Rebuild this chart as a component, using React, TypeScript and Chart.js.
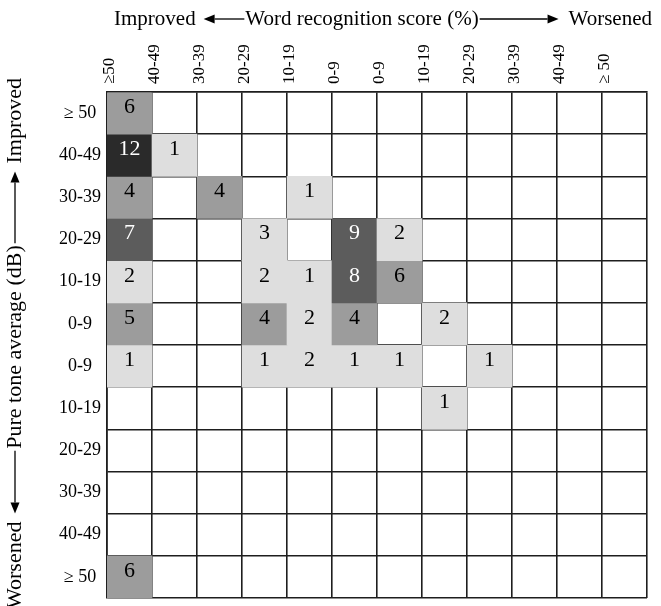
import React, { useEffect, useRef } from 'react';
import { Chart, registerables } from 'chart.js';

Chart.register(...registerables);

// Column categories: change in word recognition score (%)
const wordScoreLabels = ['≥50', '40-49', '30-39', '20-29', '10-19', '0-9', '0-9', '10-19', '20-29', '30-39', '40-49', '≥ 50'];
// Row categories: change in pure tone average (dB)
const ptaLabels = ['≥ 50', '40-49', '30-39', '20-29', '10-19', '0-9', '0-9', '10-19', '20-29', '30-39', '40-49', '≥ 50'];

// Counts per row (null = empty cell), columns follow wordScoreLabels
const rowImp50 = [6, null, null, null, null, null, null, null, null, null, null, null];
const rowImp40 = [12, 1, null, null, null, null, null, null, null, null, null, null];
const rowImp30 = [4, null, 4, null, 1, null, null, null, null, null, null, null];
const rowImp20 = [7, null, null, 3, null, 9, 2, null, null, null, null, null];
const rowImp10 = [2, null, null, 2, 1, 8, 6, null, null, null, null, null];
const rowImp0 = [5, null, null, 4, 2, 4, null, 2, null, null, null, null];
const rowWor0 = [1, null, null, 1, 2, 1, 1, null, 1, null, null, null];
const rowWor10 = [null, null, null, null, null, null, null, 1, null, null, null, null];
const rowWor20 = [null, null, null, null, null, null, null, null, null, null, null, null];
const rowWor30 = [null, null, null, null, null, null, null, null, null, null, null, null];
const rowWor40 = [null, null, null, null, null, null, null, null, null, null, null, null];
const rowWor50 = [6, null, null, null, null, null, null, null, null, null, null, null];

const rows = [rowImp50, rowImp40, rowImp30, rowImp20, rowImp10, rowImp0, rowWor0, rowWor10, rowWor20, rowWor30, rowWor40, rowWor50];

const SERIF = "'Liberation Serif', 'Times New Roman', serif";
const LINE = '#1e1e1e';

function shade(v: number): string {
  if (v >= 10) return '#2a2a2a';
  if (v >= 7) return '#5c5c5c';
  if (v >= 4) return '#9c9c9c';
  return '#dedede';
}

function arrow(ctx: CanvasRenderingContext2D, x1: number, y1: number, x2: number, y2: number) {
  const ang = Math.atan2(y2 - y1, x2 - x1);
  const hl = 11;
  const hw = 4.5;
  const bx = x2 - Math.cos(ang) * hl;
  const by = y2 - Math.sin(ang) * hl;
  ctx.save();
  ctx.strokeStyle = '#000';
  ctx.fillStyle = '#000';
  ctx.lineWidth = 1.3;
  ctx.beginPath();
  ctx.moveTo(x1, y1);
  ctx.lineTo(bx, by);
  ctx.stroke();
  ctx.beginPath();
  ctx.moveTo(x2, y2);
  ctx.lineTo(bx - Math.sin(ang) * hw, by + Math.cos(ang) * hw);
  ctx.lineTo(bx + Math.sin(ang) * hw, by - Math.cos(ang) * hw);
  ctx.closePath();
  ctx.fill();
  ctx.restore();
}

const titlePlugin = {
  id: 'axisTitles',
  afterDraw(chart: any) {
    const ctx: CanvasRenderingContext2D = chart.ctx;
    ctx.save();
    ctx.fillStyle = '#000';
    ctx.textBaseline = 'middle';

    // Top title
    ctx.font = `21px ${SERIF}`;
    const ty = 19;
    const t1 = 'Improved';
    const t2 = 'Word recognition score (%)';
    const t3 = 'Worsened';
    const w1 = ctx.measureText(t1).width;
    const w2 = ctx.measureText(t2).width;
    const w3 = ctx.measureText(t3).width;
    const x1 = 114;
    const x2c = 362;
    const x3r = 652;
    ctx.textAlign = 'left';
    ctx.fillText(t1, x1, ty);
    ctx.fillText(t2, x2c - w2 / 2, ty);
    ctx.fillText(t3, x3r - w3, ty);
    arrow(ctx, x2c - w2 / 2 - 1, ty, x1 + w1 + 8, ty);
    arrow(ctx, x2c + w2 / 2 + 1, ty, x3r - w3 - 10, ty);

    // Left title (rotated, reads bottom to top)
    ctx.font = `22px ${SERIF}`;
    const lx = 15;
    const l1 = 'Worsened';
    const l2 = 'Pure tone average (dB)';
    const l3 = 'Improved';
    const m1 = ctx.measureText(l1).width;
    const m2 = ctx.measureText(l2).width;
    const m3 = ctx.measureText(l3).width;
    const wStart = 609;
    const pCenter = 347;
    const iEnd = 78;
    ctx.save();
    ctx.translate(lx, 0);
    ctx.rotate(-Math.PI / 2);
    ctx.textAlign = 'left';
    ctx.fillText(l1, -wStart, 0);
    ctx.fillText(l2, -pCenter - m2 / 2, 0);
    ctx.fillText(l3, -iEnd - m3, 0);
    ctx.restore();
    arrow(ctx, lx, pCenter + m2 / 2 + 2, lx, wStart - m1 - 8);
    arrow(ctx, lx, pCenter - m2 / 2 - 2, lx, iEnd + m3 + 8);
    ctx.restore();
  },
};

const valuePlugin = {
  id: 'cellValues',
  afterDraw(chart: any) {
    const ctx: CanvasRenderingContext2D = chart.ctx;
    ctx.save();
    ctx.font = `22px ${SERIF}`;
    ctx.textAlign = 'center';
    ctx.textBaseline = 'middle';
    chart.data.datasets.forEach((ds: any, di: number) => {
      const meta = chart.getDatasetMeta(di);
      meta.data.forEach((el: any, ci: number) => {
        const v = rows[di][ci];
        if (v == null) return;
        const cy = (el.y + el.base) / 2;
        ctx.fillStyle = v >= 7 ? '#ffffff' : '#000000';
        ctx.fillText(String(v), el.x, cy - 6);
      });
    });
    ctx.restore();
  },
};

export default function App() {
  const ref = useRef<HTMLCanvasElement>(null);

  useEffect(() => {
    if (!ref.current) return;
    const datasets = rows.map((row, r) => ({
      label: ptaLabels[r],
      data: row.map((v) => (v == null ? null : [r, r + 1])),
      backgroundColor: row.map((v) => (v == null ? 'rgba(0,0,0,0)' : shade(v))),
      borderWidth: 0,
      barPercentage: 1,
      categoryPercentage: 1,
      grouped: false,
    }));

    const chart = new Chart(ref.current, {
      type: 'bar',
      data: { labels: wordScoreLabels, datasets: datasets as any },
      plugins: [valuePlugin, titlePlugin],
      options: {
        animation: false,
        responsive: false,
        layout: { padding: { left: 0, top: 0, right: 14, bottom: 8 } },
        plugins: { legend: { display: false }, tooltip: { enabled: false }, title: { display: false } },
        scales: {
          x: {
            type: 'category',
            position: 'top',
            z: 1,
            offset: true,
            grid: { offset: true, color: LINE, lineWidth: 1.6, drawTicks: false },
            border: { display: true, color: LINE, width: 1.6 },
            ticks: {
              color: '#000',
              font: { family: SERIF, size: 17 },
              maxRotation: 90,
              minRotation: 90,
              autoSkip: false,
              padding: 8,
            },
            afterFit(scale: any) {
              scale.height = 92;
              scale.paddingLeft = 0;
              scale.paddingRight = 0;
            },
          },
          y: {
            type: 'linear',
            min: 0,
            max: 12,
            reverse: true,
            z: 1,
            afterBuildTicks(scale: any) {
              const t = [];
              for (let i = 0; i <= 24; i++) t.push({ value: i / 2 });
              scale.ticks = t;
            },
            grid: {
              color: (c: any) => (c.tick && Number.isInteger(c.tick.value) ? LINE : 'rgba(0,0,0,0)'),
              lineWidth: 1.6,
              drawTicks: false,
            },
            border: { display: true, color: LINE, width: 1.6 },
            ticks: {
              color: '#000',
              font: { family: SERIF, size: 18 },
              crossAlign: 'center',
              padding: 6,
              autoSkip: false,
              callback: (v: any) => (Number.isInteger(v) ? '' : ptaLabels[Math.floor(v)]),
            },
            afterFit(scale: any) {
              scale.width = 107;
              scale.paddingTop = 0;
              scale.paddingBottom = 0;
            },
          },
        },
      } as any,
    });
    return () => chart.destroy();
  }, []);

  return (
    <div style={{ position: 'absolute', left: 0, top: 0, width: 661, height: 606, background: '#fff' }}>
      <canvas ref={ref} width={661} height={606} style={{ width: 661, height: 606, display: 'block' }} />
    </div>
  );
}
